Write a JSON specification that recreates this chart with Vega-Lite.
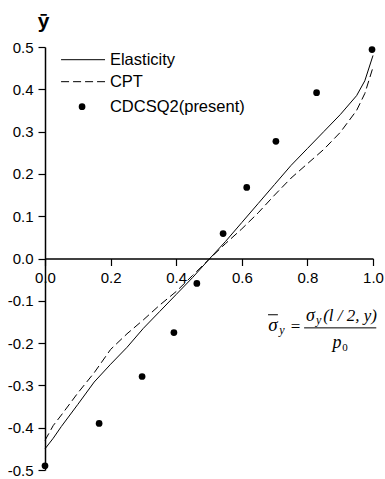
{
  "$schema": "https://vega.github.io/schema/vega-lite/v6.json",
  "width": 328,
  "height": 423,
  "autosize": "none",
  "padding": {"left": 45, "top": 47, "right": 12, "bottom": 9},
  "background": "white",
  "config": {
    "view": {"stroke": null},
    "font": "Liberation Sans",
    "axis": {
      "grid": false,
      "domainColor": "black",
      "domainWidth": 1.5,
      "tickColor": "black",
      "tickWidth": 1.2,
      "labelColor": "black",
      "labelFont": "Liberation Sans",
      "labelFontSize": 15
    }
  },
  "datasets": {
    "elastic": [
      {"x": 0, "y": -0.45}, {"x": 0.025, "y": -0.425}, {"x": 0.05, "y": -0.397},
      {"x": 0.1, "y": -0.345}, {"x": 0.15, "y": -0.292}, {"x": 0.2, "y": -0.25},
      {"x": 0.25, "y": -0.21}, {"x": 0.3, "y": -0.165}, {"x": 0.35, "y": -0.125},
      {"x": 0.4, "y": -0.085}, {"x": 0.45, "y": -0.045}, {"x": 0.5, "y": -0.002},
      {"x": 0.55, "y": 0.04}, {"x": 0.6, "y": 0.085}, {"x": 0.65, "y": 0.13},
      {"x": 0.7, "y": 0.175}, {"x": 0.75, "y": 0.22}, {"x": 0.8, "y": 0.26},
      {"x": 0.85, "y": 0.3}, {"x": 0.9, "y": 0.34}, {"x": 0.95, "y": 0.385},
      {"x": 0.975, "y": 0.42}, {"x": 1.0, "y": 0.48}
    ],
    "cpt": [
      {"x": 0, "y": -0.43}, {"x": 0.025, "y": -0.395}, {"x": 0.05, "y": -0.37},
      {"x": 0.1, "y": -0.318}, {"x": 0.15, "y": -0.27}, {"x": 0.2, "y": -0.215},
      {"x": 0.25, "y": -0.178}, {"x": 0.3, "y": -0.145}, {"x": 0.35, "y": -0.11},
      {"x": 0.4, "y": -0.078}, {"x": 0.45, "y": -0.04}, {"x": 0.5, "y": -0.002},
      {"x": 0.55, "y": 0.035}, {"x": 0.6, "y": 0.07}, {"x": 0.65, "y": 0.108},
      {"x": 0.7, "y": 0.15}, {"x": 0.75, "y": 0.19}, {"x": 0.8, "y": 0.224},
      {"x": 0.85, "y": 0.258}, {"x": 0.9, "y": 0.298}, {"x": 0.95, "y": 0.35},
      {"x": 0.975, "y": 0.39}, {"x": 1.0, "y": 0.452}
    ],
    "present": [
      {"x": 0.0, "y": -0.49}, {"x": 0.165, "y": -0.39}, {"x": 0.296, "y": -0.279},
      {"x": 0.393, "y": -0.175}, {"x": 0.463, "y": -0.059}, {"x": 0.543, "y": 0.059},
      {"x": 0.615, "y": 0.168}, {"x": 0.704, "y": 0.277}, {"x": 0.828, "y": 0.392},
      {"x": 0.997, "y": 0.494}
    ],
    "one": [{}]
  },
  "layer": [
    {
      "data": {"name": "elastic"},
      "mark": {"type": "line", "color": "black", "strokeWidth": 1},
      "encoding": {
        "x": {
          "field": "x", "type": "quantitative",
          "scale": {"domain": [0, 1], "nice": false, "zero": false},
          "axis": {
            "title": null,
            "offset": -211.5,
            "values": [0, 0.1, 0.2, 0.3, 0.4, 0.5, 0.6, 0.7, 0.8, 0.9, 1.0],
            "labelExpr": "abs(datum.value*5 - round(datum.value*5)) < 0.001 ? format(datum.value, '.1f') : ''",
            "tickSize": {"condition": {"test": "abs(datum.value*5 - round(datum.value*5)) < 0.001", "value": 7}, "value": 4},
            "labelPadding": 5,
            "labelFlush": false,
            "labelOverlap": false
          }
        },
        "y": {
          "field": "y", "type": "quantitative",
          "scale": {"domain": [-0.5, 0.5], "nice": false, "zero": false},
          "axis": {
            "title": "ȳ",
            "titleAngle": 0,
            "titleX": -2,
            "titleY": -26,
            "titleAlign": "center",
            "titleBaseline": "middle",
            "titleFontSize": 21,
            "titleFontWeight": "bold",
            "titleFont": "Liberation Sans",
            "titleColor": "black",
            "values": [-0.5, -0.45, -0.4, -0.35, -0.3, -0.25, -0.2, -0.15, -0.1, -0.05, 0, 0.05, 0.1, 0.15, 0.2, 0.25, 0.3, 0.35, 0.4, 0.45, 0.5],
            "labelExpr": "abs(datum.value*10 - round(datum.value*10)) < 0.001 ? replace(format(datum.value, '.1f'), '\u2212', '-') : ''",
            "tickSize": {"condition": {"test": "abs(datum.value*10 - round(datum.value*10)) < 0.001", "value": 7}, "value": 4},
            "labelPadding": 5,
            "labelFlush": false,
            "labelOverlap": false
          }
        }
      }
    },
    {
      "data": {"name": "cpt"},
      "mark": {"type": "line", "color": "black", "strokeWidth": 1, "strokeDash": [8, 4]},
      "encoding": {
        "x": {"field": "x", "type": "quantitative"},
        "y": {"field": "y", "type": "quantitative"}
      }
    },
    {
      "data": {"name": "present"},
      "mark": {"type": "point", "filled": true, "color": "black", "size": 45, "opacity": 1},
      "encoding": {
        "x": {"field": "x", "type": "quantitative"},
        "y": {"field": "y", "type": "quantitative"}
      }
    },
    {
      "data": {"name": "one"},
      "mark": {"type": "rule", "color": "black", "strokeWidth": 1},
      "encoding": {"x": {"datum": 0.049}, "x2": {"datum": 0.183}, "y": {"datum": 0.47}}
    },
    {
      "data": {"name": "one"},
      "mark": {"type": "rule", "color": "black", "strokeWidth": 1, "strokeDash": [8, 4]},
      "encoding": {"x": {"datum": 0.049}, "x2": {"datum": 0.183}, "y": {"datum": 0.418}}
    },
    {
      "data": {"name": "one"},
      "mark": {"type": "point", "filled": true, "color": "black", "size": 45, "opacity": 1},
      "encoding": {"x": {"datum": 0.113}, "y": {"datum": 0.359}}
    },
    {
      "data": {"name": "one"},
      "mark": {"type": "text", "text": "Elasticity", "align": "left", "baseline": "middle", "fontSize": 16.5, "font": "Liberation Sans", "color": "black"},
      "encoding": {"x": {"datum": 0.198}, "y": {"datum": 0.47}}
    },
    {
      "data": {"name": "one"},
      "mark": {"type": "text", "text": "CPT", "align": "left", "baseline": "middle", "fontSize": 16.5, "font": "Liberation Sans", "color": "black"},
      "encoding": {"x": {"datum": 0.198}, "y": {"datum": 0.418}}
    },
    {
      "data": {"name": "one"},
      "mark": {"type": "text", "text": "CDCSQ2(present)", "align": "left", "baseline": "middle", "fontSize": 16.5, "font": "Liberation Sans", "color": "black"},
      "encoding": {"x": {"datum": 0.198}, "y": {"datum": 0.359}}
    },
    {
      "data": {"name": "one"},
      "mark": {"type": "text", "text": "σ", "align": "center", "baseline": "alphabetic", "fontSize": 19, "font": "Liberation Serif", "fontStyle": "italic", "color": "black"},
      "encoding": {"x": {"datum": 0.695}, "y": {"datum": -0.172}}
    },
    {
      "data": {"name": "one"},
      "mark": {"type": "rule", "color": "black", "strokeWidth": 1},
      "encoding": {"x": {"datum": 0.68}, "x2": {"datum": 0.71}, "y": {"datum": -0.133}}
    },
    {
      "data": {"name": "one"},
      "mark": {"type": "text", "text": "y", "align": "left", "baseline": "alphabetic", "fontSize": 12, "font": "Liberation Serif", "fontStyle": "italic", "color": "black"},
      "encoding": {"x": {"datum": 0.714}, "y": {"datum": -0.178}}
    },
    {
      "data": {"name": "one"},
      "mark": {"type": "text", "text": "=", "align": "center", "baseline": "middle", "fontSize": 17, "font": "Liberation Serif", "color": "black"},
      "encoding": {"x": {"datum": 0.764}, "y": {"datum": -0.163}}
    },
    {
      "data": {"name": "one"},
      "mark": {"type": "rule", "color": "black", "strokeWidth": 1},
      "encoding": {"x": {"datum": 0.79}, "x2": {"datum": 1.01}, "y": {"datum": -0.164}}
    },
    {
      "data": {"name": "one"},
      "mark": {"type": "text", "text": "σ", "align": "left", "baseline": "alphabetic", "fontSize": 18, "font": "Liberation Serif", "fontStyle": "italic", "color": "black"},
      "encoding": {"x": {"datum": 0.796}, "y": {"datum": -0.148}}
    },
    {
      "data": {"name": "one"},
      "mark": {"type": "text", "text": "y", "align": "left", "baseline": "alphabetic", "fontSize": 12, "font": "Liberation Serif", "fontStyle": "italic", "color": "black"},
      "encoding": {"x": {"datum": 0.826}, "y": {"datum": -0.156}}
    },
    {
      "data": {"name": "one"},
      "mark": {"type": "text", "text": "(l / 2, y)", "align": "left", "baseline": "alphabetic", "fontSize": 17, "font": "Liberation Serif", "fontStyle": "italic", "color": "black"},
      "encoding": {"x": {"datum": 0.848}, "y": {"datum": -0.148}}
    },
    {
      "data": {"name": "one"},
      "mark": {"type": "text", "text": "p", "align": "center", "baseline": "alphabetic", "fontSize": 18, "font": "Liberation Serif", "fontStyle": "italic", "color": "black"},
      "encoding": {"x": {"datum": 0.89}, "y": {"datum": -0.211}}
    },
    {
      "data": {"name": "one"},
      "mark": {"type": "text", "text": "0", "align": "left", "baseline": "alphabetic", "fontSize": 11, "font": "Liberation Serif", "color": "black"},
      "encoding": {"x": {"datum": 0.906}, "y": {"datum": -0.219}}
    }
  ]
}
